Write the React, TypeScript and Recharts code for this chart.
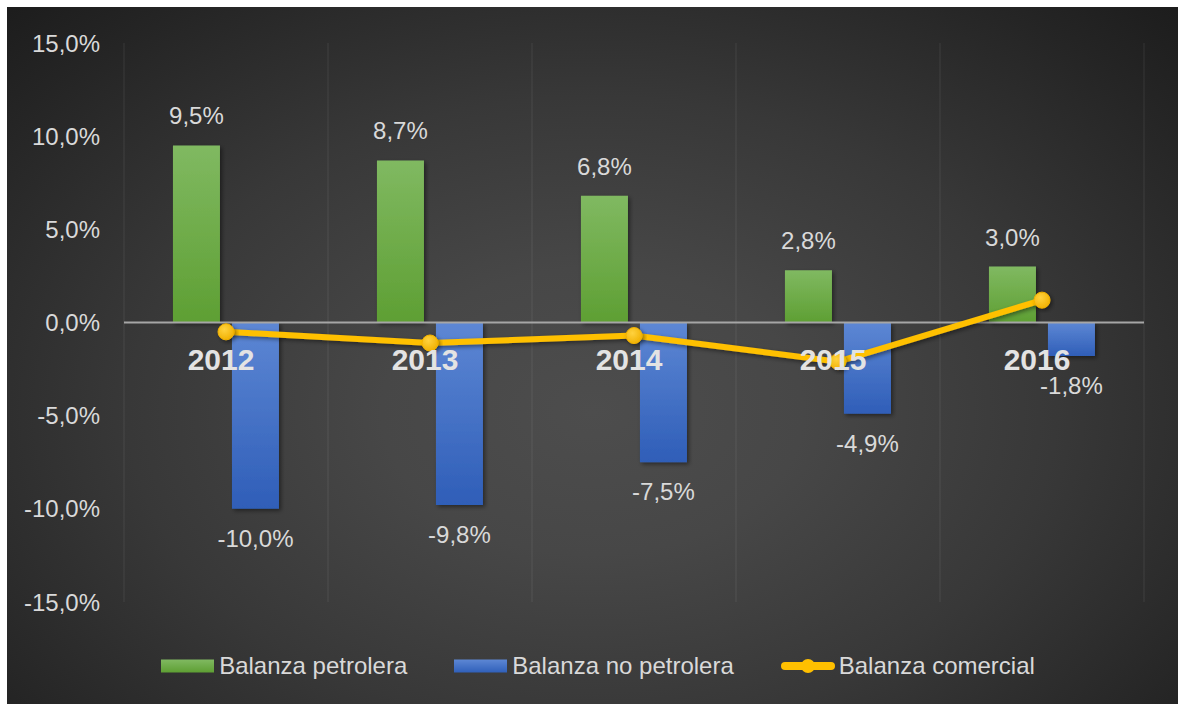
import {
  Bar,
  CartesianGrid,
  ComposedChart,
  LabelList,
  Legend,
  Line,
  ReferenceLine,
  XAxis,
  YAxis,
} from 'recharts';

const years = ['2012', '2013', '2014', '2015', '2016'];
const petrolera = [9.5, 8.7, 6.8, 2.8, 3.0];
const noPetrolera = [-10.0, -9.8, -7.5, -4.9, -1.8];
const comercial = [-0.5, -1.1, -0.7, -2.1, 1.2];
const yTicks = [-15, -10, -5, 0, 5, 10, 15];

const seriesNames = {
  petrolera: 'Balanza petrolera',
  noPetrolera: 'Balanza no petrolera',
  comercial: 'Balanza comercial',
};
const legendOrder = ['petrolera', 'noPetrolera', 'comercial'];

const data = years.map((year, i) => ({
  year,
  petrolera: petrolera[i],
  noPetrolera: noPetrolera[i],
  comercial: comercial[i],
  base: 0,
}));

const FONT = '"Liberation Sans", Arial, Helvetica, sans-serif';
const TEXT = '#d9d9d9';
const YELLOW = '#ffc000';

const fmt = (v: number) => `${Number(v).toFixed(1).replace('.', ',')}%`;

// grid lines on the category boundaries, not the centres
const boundaryLines = (props: any) => {
  const { xAxis, offset } = props;
  const s = xAxis?.scale;
  if (typeof s === 'function' && typeof s.bandwidth === 'function') {
    const xs = years.map((y) => s(y));
    return [...xs, xs[xs.length - 1] + s.bandwidth()];
  }
  return years
    .map((_, i) => offset.left + (i * offset.width) / years.length)
    .concat(offset.left + offset.width);
};

const LegendContent = (props: any) => {
  const items = (props.payload || [])
    .filter((p: any) => p.type !== 'none')
    .sort((a: any, b: any) => legendOrder.indexOf(a.dataKey) - legendOrder.indexOf(b.dataKey));
  return (
    <div
      style={{
        display: 'flex',
        justifyContent: 'center',
        alignItems: 'center',
        gap: 47,
        height: 30,
        paddingLeft: 11,
        boxSizing: 'border-box',
        fontFamily: FONT,
        fontSize: 24,
        color: TEXT,
      }}>
      {items.map((p: any) => (
        <div key={p.dataKey} style={{ display: 'flex', alignItems: 'center', gap: 4 }}>
          <svg width={54} height={18}>
            <defs>
              <linearGradient id={`lg-${p.dataKey}`} x1='0' y1='0' x2='0' y2='1'>
                {p.dataKey === 'petrolera' ? (
                  <>
                    <stop offset='0%' stopColor='#80b961' />
                    <stop offset='100%' stopColor='#5e9f33' />
                  </>
                ) : (
                  <>
                    <stop offset='0%' stopColor='#5d87d4' />
                    <stop offset='100%' stopColor='#3060ba' />
                  </>
                )}
              </linearGradient>
            </defs>
            {p.dataKey !== 'comercial' ? (
              <rect x={0} y={2.5} width={53} height={13} fill={`url(#lg-${p.dataKey})`} />
            ) : (
              <>
                <line x1={4} y1={9} x2={50} y2={9} stroke={YELLOW} strokeWidth={8} strokeLinecap='round' />
                <circle cx={27} cy={9} r={7} fill={YELLOW} />
              </>
            )}
          </svg>
          <span>{p.value}</span>
        </div>
      ))}
    </div>
  );
};

export default function App() {
  return (
    <div
      style={{
        position: 'absolute',
        left: 7,
        top: 7,
        width: 1171,
        height: 697,
        background:
          'radial-gradient(ellipse 72% 82% at 50% 58%, #4d4d4d 0%, #474747 25%, #383838 55%, #252525 85%, #1c1c1c 100%)',
      }}>
      <ComposedChart
        width={1171}
        height={697}
        data={data}
        margin={{ top: 36, right: 34, bottom: 72, left: 17 }}
        barCategoryGap='24%'
        barGap={12}>
        <defs>
          <linearGradient id='gGreen' x1='0' y1='0' x2='0' y2='1'>
            <stop offset='0%' stopColor='#80b961' />
            <stop offset='100%' stopColor='#5e9f33' />
          </linearGradient>
          <linearGradient id='gBlue' x1='0' y1='0' x2='0' y2='1'>
            <stop offset='0%' stopColor='#5d87d4' />
            <stop offset='100%' stopColor='#2f5eb8' />
          </linearGradient>
          <radialGradient id='gDot' cx='40%' cy='35%' r='70%'>
            <stop offset='0%' stopColor='#ffd23f' />
            <stop offset='100%' stopColor='#f0b000' />
          </radialGradient>
          <filter id='shadow' x='-20%' y='-20%' width='150%' height='150%'>
            <feDropShadow dx='2' dy='2' stdDeviation='2' floodColor='#000' floodOpacity='0.45' />
          </filter>
        </defs>
        <CartesianGrid
          horizontal={false}
          stroke='rgba(255,255,255,0.09)'
          verticalCoordinatesGenerator={boundaryLines}
        />
        <XAxis dataKey='year' hide />
        <YAxis
          domain={[-15, 15]}
          ticks={yTicks}
          tickFormatter={fmt}
          axisLine={false}
          tickLine={false}
          tickMargin={18}
          width={100}
          tick={{ fill: TEXT, fontSize: 24, fontFamily: FONT }}
        />
        <Bar
          dataKey='petrolera'
          name={seriesNames.petrolera}
          fill='url(#gGreen)'
          filter='url(#shadow)'
          isAnimationActive={false}>
          <LabelList
            dataKey='petrolera'
            position='top'
            offset={21}
            formatter={fmt}
            fill={TEXT}
            fontSize={24}
            fontFamily={FONT}
          />
        </Bar>
        <Bar
          dataKey='noPetrolera'
          name={seriesNames.noPetrolera}
          fill='url(#gBlue)'
          filter='url(#shadow)'
          isAnimationActive={false}>
          <LabelList
            dataKey='noPetrolera'
            position='top'
            offset={21}
            formatter={fmt}
            fill={TEXT}
            fontSize={24}
            fontFamily={FONT}
          />
        </Bar>
        <ReferenceLine y={0} stroke='#a6a6a6' strokeWidth={2} />
        <Line
          dataKey='comercial'
          name={seriesNames.comercial}
          stroke={YELLOW}
          strokeWidth={6}
          filter='url(#shadow)'
          dot={{ r: 8, fill: 'url(#gDot)', stroke: '#f2b200', strokeWidth: 1 }}
          activeDot={false}
          isAnimationActive={false}
        />
        {/* category names sit on the zero line, like the original */}
        <Line
          dataKey='base'
          stroke='none'
          dot={false}
          activeDot={false}
          legendType='none'
          isAnimationActive={false}>
          <LabelList
            dataKey='year'
            position='bottom'
            offset={26}
            dx={-5}
            fill='#e3e3e3'
            fontSize={30}
            fontWeight='bold'
            fontFamily={FONT}
          />
        </Line>
        <Legend
          verticalAlign='bottom'
          content={<LegendContent />}
          wrapperStyle={{ left: 0, width: 1171, bottom: 23 }}
        />
      </ComposedChart>
    </div>
  );
}
